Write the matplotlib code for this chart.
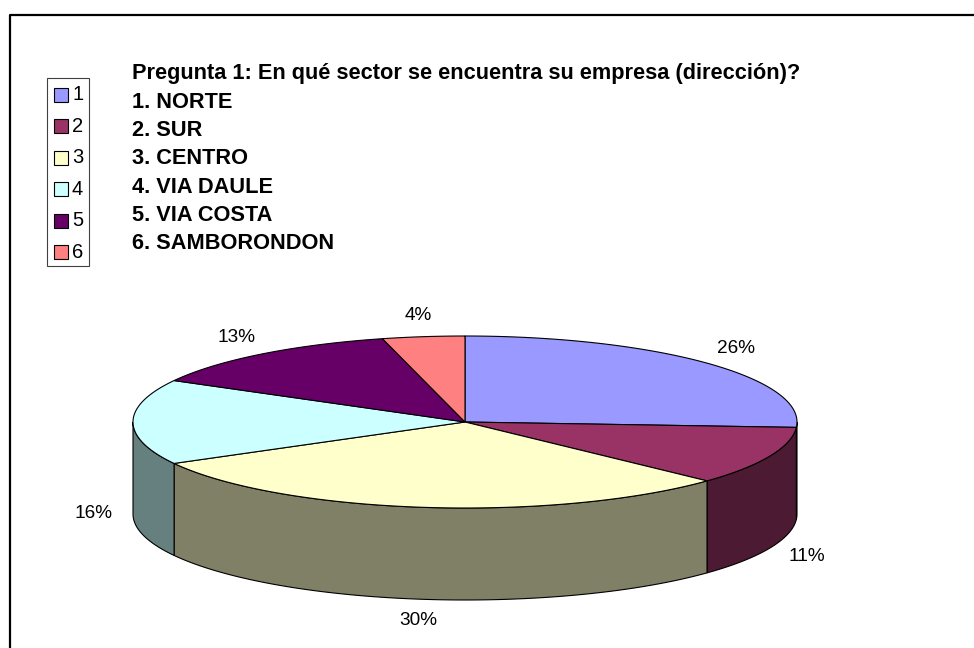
import numpy as np
import matplotlib
matplotlib.use("Agg")
import matplotlib.pyplot as plt
from matplotlib.patches import Polygon, Rectangle
from matplotlib.lines import Line2D

plt.rcParams['font.family'] = ['Liberation Sans', 'DejaVu Sans']

# data
categories = ["1", "2", "3", "4", "5", "6"]
values = [26, 11, 30, 16, 13, 4]
title_lines = [
    "Pregunta 1: En qué sector se encuentra su empresa (dirección)?",
    "1. NORTE",
    "2. SUR",
    "3. CENTRO",
    "4. VIA DAULE",
    "5. VIA COSTA",
    "6. SAMBORONDON",
]
top_colors = ["#9999FF", "#993366", "#FFFFCC", "#CCFFFF", "#660066", "#FF8080"]
side_colors = ["#4C4C80", "#4C1A33", "#808066", "#668080", "#330033", "#804040"]

# geometry of the 3d pie (pixel units)
cx, cy = 465, 422
rx, ry = 332, 86
depth = 92

fig = plt.figure(figsize=(9.74, 6.48), dpi=100)
ax = fig.add_axes([0, 0, 1, 1])
ax.set_xlim(0, 974)
ax.set_ylim(648, 0)
ax.axis("off")

# outer frame (runs off the right and bottom edges)
ax.add_line(Line2D([10, 10, 980], [660, 15, 15], color="black", lw=1.6))


def ell(a, dz=0):
    a = np.radians(a)
    return np.column_stack([cx + rx * np.cos(a), cy - ry * np.sin(a) + dz])


total = float(sum(values))
starts = 90 - 360 * np.concatenate([[0], np.cumsum(values)[:-1]]) / total
ends = starts - 360 * np.array(values) / total

# side walls (front half only: angles between -180 and 0)
for a0, a1, sc in zip(starts, ends, side_colors):
    lo, hi = max(a1, -180), min(a0, 0)
    if hi <= lo:
        continue
    t = np.linspace(lo, hi, 80)
    pts = np.vstack([ell(t), ell(t[::-1], depth)])
    ax.add_patch(Polygon(pts, closed=True, facecolor=sc, edgecolor="black", lw=0.8))

# top faces
for a0, a1, tc in zip(starts, ends, top_colors):
    t = np.linspace(a0, a1, 120)
    pts = np.vstack([[cx, cy], ell(t)])
    ax.add_patch(Polygon(pts, closed=True, facecolor=tc, edgecolor="black", lw=0.8))

# percentage labels
for a0, a1, v in zip(starts, ends, values):
    m = np.radians((a0 + a1) / 2)
    x = cx + 372 * np.cos(m)
    y = cy - 107 * np.sin(m) + (depth if np.sin(m) < 1e-9 else 0)
    ax.text(x, y, f"{v}%", ha="center", va="center", fontsize=13.7)

# title block
for i, line in enumerate(title_lines):
    ax.text(132, 74 + i * 28.3, line, ha="left", va="center",
            fontsize=15.7, fontweight="bold")

# legend
ax.add_patch(Rectangle((47, 78), 42, 188, facecolor="white",
                       edgecolor="#404040", lw=0.8))
for i, (lab, c) in enumerate(zip(categories, top_colors)):
    yy = 95 + i * 31.4
    ax.add_patch(Rectangle((54, yy - 7), 14, 14, facecolor=c,
                           edgecolor="black", lw=0.8))
    ax.text(72, yy, lab, ha="left", va="center", fontsize=14.5)

fig.savefig("out.png", dpi=100)
